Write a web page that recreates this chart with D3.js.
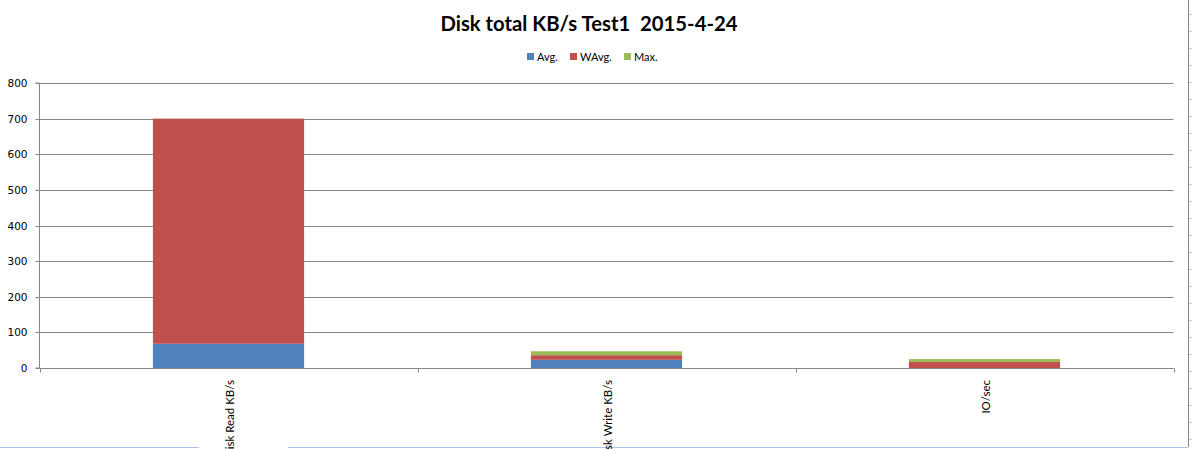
<!DOCTYPE html>
<html><head><meta charset="utf-8">
<script src="https://cdn.jsdelivr.net/npm/d3@7/dist/d3.min.js"></script>
<style>body{margin:0;background:#fff;}svg{display:block;}</style>
</head><body>
<svg id="chart" width="1192" height="449"></svg>
<script>
const categories = ["Disk Read KB/s", "Disk Write KB/s", "IO/sec"];
const seriesNames = ["Avg.", "WAvg.", "Max."];
const avgValues = [68, 23, 0];
const wavgValues = [632, 13, 17];
const maxValues = [0, 11, 8];
const yTicks = [0, 100, 200, 300, 400, 500, 600, 700, 800];
const colors = ["#4f81bd", "#c0504d", "#9bbb59"];
const titleText = "Disk total KB/s Test1\u00a0\u00a02015-4-24";

(function(){
const svg = d3.select("#chart");
const pLeft = 39.5, pRight = 1173.5, pTop = 83, pBottom = 368;

const x = d3.scaleBand().domain(categories).range([pLeft, pRight]).padding(0);
const y = d3.scaleLinear().domain([0, 800]).range([pBottom, pTop]);
const gridColor = "#868686";

// decorative spreadsheet borders
svg.append("line").attr("x1", 0).attr("x2", 199).attr("y1", 447.5).attr("y2", 447.5)
  .attr("stroke", "#a9c4e8").attr("stroke-width", 1);
svg.append("line").attr("x1", 288).attr("x2", 1188).attr("y1", 447.5).attr("y2", 447.5)
  .attr("stroke", "#a9c4e8").attr("stroke-width", 1);
svg.append("line").attr("x1", 1188.5).attr("x2", 1188.5).attr("y1", 0).attr("y2", 447)
  .attr("stroke", "#888").attr("stroke-width", 1);
svg.append("g").selectAll("line").data(d3.range(14, 447, 17)).join("line")
  .attr("x1", 1189).attr("x2", 1192).attr("y1", d => d + 0.5).attr("y2", d => d + 0.5)
  .attr("stroke", "#c8c8e0");

// title
svg.append("text").attr("x", 589).attr("y", 31).attr("text-anchor", "middle")
  .attr("font-family", "Lato, 'Open Sans', sans-serif").attr("font-weight", "bold")
  .attr("font-size", 20.3).attr("fill", "#000").text(titleText);

// legend
const legendX = [527, 570, 624];
const lg = svg.append("g");
seriesNames.forEach((n, i) => {
  lg.append("rect").attr("x", legendX[i]).attr("y", 53).attr("width", 7).attr("height", 7).attr("fill", colors[i]);
  lg.append("text").attr("x", legendX[i] + 10).attr("y", 61)
    .attr("font-family", "Lato, sans-serif").attr("font-size", 11).attr("fill", "#000").text(n);
});

// gridlines
svg.append("g").selectAll("line").data(yTicks).join("line")
  .attr("x1", pLeft).attr("x2", pRight)
  .attr("y1", d => Math.round(y(d)) + 0.5).attr("y2", d => Math.round(y(d)) + 0.5)
  .attr("stroke", gridColor).attr("stroke-width", 1);

// y axis
const yAxis = d3.axisLeft(y).tickValues(yTicks).tickSize(4).tickPadding(8);
const ya = svg.append("g").attr("transform", `translate(${pLeft},0)`).call(yAxis);
ya.select(".domain").attr("stroke", gridColor).attr("d", `M-4,${pTop}H0V${pBottom}H-4`);
ya.selectAll(".tick line").attr("stroke", gridColor);
ya.selectAll(".tick").attr("transform", d => `translate(0,${Math.round(y(d)) + 0.5})`);
ya.selectAll(".tick text").attr("font-family", "'DejaVu Sans', Verdana, sans-serif")
  .attr("font-size", 10.5).attr("fill", "#000");

// stacked bars
const rows = categories.map((c, i) => ({cat: c, avg: avgValues[i], wavg: wavgValues[i], max: maxValues[i]}));
const stack = d3.stack().keys(["avg", "wavg", "max"])(rows);
const barW = x.bandwidth() * 0.4;
svg.append("g").selectAll("g").data(stack).join("g").attr("fill", (d, i) => colors[i])
  .selectAll("rect").data(d => d).join("rect")
  .attr("x", d => x(d.data.cat) + (x.bandwidth() - barW) / 2)
  .attr("y", d => y(d[1]))
  .attr("width", barW)
  .attr("height", d => y(d[0]) - y(d[1]));

// x axis
const xa = svg.append("g").attr("transform", `translate(0,${Math.round(pBottom) + 0.5})`);
xa.append("path").attr("d", `M${pLeft},0H${pRight}`).attr("stroke", gridColor).attr("fill", "none");
const boundaries = categories.map(c => x(c)).concat([x(categories[categories.length - 1]) + x.bandwidth()]);
xa.selectAll("line.tk").data(boundaries).join("line").attr("class", "tk")
  .attr("x1", d => Math.round(d) + 0.5).attr("x2", d => Math.round(d) + 0.5)
  .attr("y1", 0).attr("y2", 4).attr("stroke", gridColor);
svg.append("g").selectAll("text").data(categories).join("text")
  .attr("transform", d => `translate(${x(d) + x.bandwidth() / 2 + 1},380) rotate(-90)`)
  .attr("text-anchor", "end").attr("dy", "0.35em")
  .attr("font-family", "Lato, sans-serif").attr("font-size", 11.5).attr("fill", "#000")
  .text(d => d);
})();
</script>
</body></html>
